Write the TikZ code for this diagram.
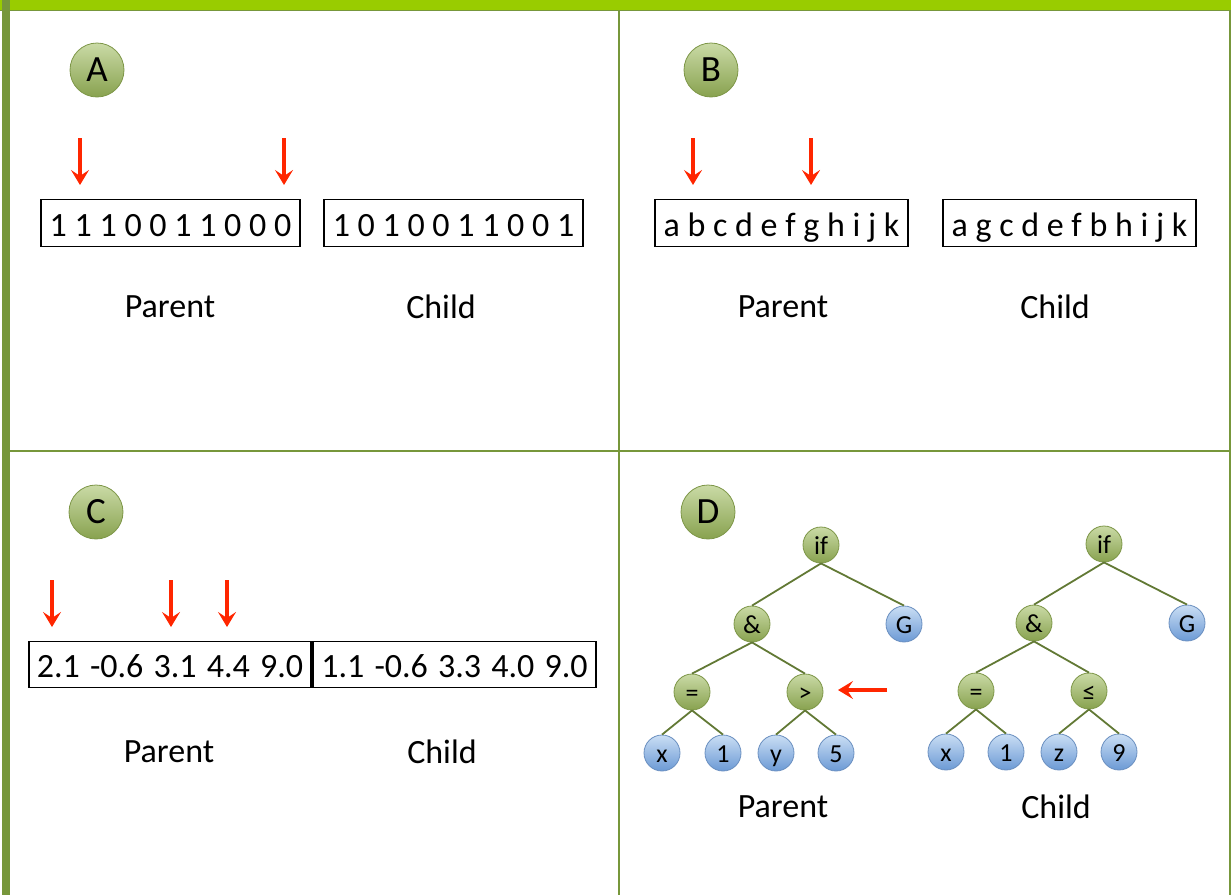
\documentclass[tikz,border=0pt]{standalone}
\usepackage{fontspec}
\setmainfont{Carlito}
\usepackage{tikz}
\usetikzlibrary{arrows.meta,positioning}
\definecolor{bargreen}{HTML}{99CC00}
\definecolor{rulegreen}{HTML}{77973B}
\definecolor{nodetop}{HTML}{CADAA6}
\definecolor{nodebot}{HTML}{88A24F}
\definecolor{nodeline}{HTML}{7D9647}
\definecolor{leaftop}{HTML}{CADEF4}
\definecolor{leafbot}{HTML}{6C9AD5}
\definecolor{leafline}{HTML}{6A8FC0}
\definecolor{edgegreen}{HTML}{627935}
\definecolor{arrowred}{HTML}{FF2600}

\begin{document}
\begin{tikzpicture}[x=1pt, y=-1pt,
    labelcircle/.style={
    circle,
    draw=nodeline,
    line width=0.8pt,
    top color=nodetop,
    bottom color=nodebot,
    inner sep=0pt,
    minimum size=54pt,
    font=\fontsize{37}{42}\selectfont},
    opnode/.style={
    circle,
    draw=nodeline,
    line width=0.8pt,
    top color=nodetop,
    bottom color=nodebot,
    inner sep=0pt,
    minimum size=36pt,
    text height=19pt,
    text depth=0pt,
    font=\fontsize{26}{30}\selectfont},
    leafnode/.style={opnode, draw=leafline, top color=leaftop, bottom color=leafbot},
    genebox/.style={draw=black, line width=1.3pt, inner sep=0pt,
    minimum height=47pt, text height=26pt, text depth=0pt,
    font=\fontsize{34}{40}\selectfont},
    tag/.style={font=\fontsize{34}{40}\selectfont},
    myarrow/.style={-{Stealth[length=15pt,width=18pt,inset=6pt]},draw=arrowred,line width=3.2pt},
    treeline/.style={draw=edgegreen,line width=1.8pt}
    ]
    \useasboundingbox (0,0) rectangle (1231,895);

    % frame
    \fill[bargreen] (0,0) rectangle (1231,10);
    \draw[rulegreen, line width=1.2pt] (0,10.5) -- (1231,10.5);
    \fill[rulegreen] (2,0) rectangle (10,895);
    \fill[rulegreen] (1228.5,10) rectangle (1231,895);
    \draw[rulegreen, line width=2pt] (619,10) -- (619,895);
    \draw[rulegreen, line width=2pt] (10,450.5) -- (1229,450.5);

    % panel letters
    \node[labelcircle] (lA) at (97,70) {A};
    \node[labelcircle] (lB) at (711,70) {B};
    \node[labelcircle] (lC) at (96,512) {C};
    \node[labelcircle] (lD) at (708,512) {D};

    % A: binary strings
    \node[genebox, minimum width=259pt] (pa) at (170.5,223) {1 1 1 0 0 1 1 0 0 0};
    \node[genebox, minimum width=259pt] (ca) at (453.5,223) {1 0 1 0 0 1 1 0 0 1};
    \node[tag] (pat) at (170,307) {Parent};
    \node[tag] (cat) at (441,307) {Child};

    % B: permutations
    \node[genebox, minimum width=253pt] (pb) at (781.5,223) {a b c d e f g h i j k};
    \node[genebox, minimum width=253pt] (cb) at (1069.5,223) {a g c d e f b h i j k};
    \node[tag] (pbt) at (783,307) {Parent};
    \node[tag] (cbt) at (1055,307) {Child};

    % C: real vectors
    \node[genebox, minimum width=282pt, minimum height=46pt] (pc) at (170,664.5)
        {2.1\hspace{.3em}-0.6\hspace{.3em}3.1\hspace{.3em}4.4\hspace{.3em}9.0};
    \node[genebox, minimum width=283pt, minimum height=46pt] (cc) at (454.5,664.5)
        {1.1\hspace{.3em}-0.6\hspace{.3em}3.3\hspace{.3em}4.0\hspace{.3em}9.0};
    \node[tag] (pct) at (169,752) {Parent};
    \node[tag] (cct) at (442,752) {Child};

    % mutation points
    \foreach \n/\x/\y in {a1/80/138, a2/284/138, b1/693/138, b2/811/138,
                          c1/52/580, c2/171/580, c3/227/580} {
        \coordinate (\n s) at (\x,\y);
        \coordinate (\n e) at (\x,\y+47);
        \draw[myarrow] (\n s) -- (\n e);
    }

    % D: parent tree
    \node[opnode] (pif) at (821,545) {if};
    \node[opnode] (pand) at (752,624) {\&};
    \node[leafnode] (pg) at (904,624) {G};
    \node[opnode] (peq) at (692,692) {=};
    \node[opnode] (pgt) at (805,692) {>};
    \node[leafnode] (px) at (662,753) {x};
    \node[leafnode] (p1) at (723,753) {1};
    \node[leafnode] (py) at (776,753) {y};
    \node[leafnode] (p5) at (836,753) {5};

    \draw[treeline] (pif.south) -- (pand.north);
    \draw[treeline] (pif.south) -- (pg.north);
    \draw[treeline] (pand.south) -- (peq.north);
    \draw[treeline] (pand.south) -- (pgt.north);
    \draw[treeline] (peq.south) -- (px.north);
    \draw[treeline] (peq.south) -- (p1.north);
    \draw[treeline] (pgt.south) -- (py.north);
    \draw[treeline] (pgt.south) -- (p5.north);

    \coordinate (ds) at (887,690);
    \coordinate (de) at (838,690);
    \draw[myarrow] (ds) -- (de);

    % D: child tree
    \node[opnode] (cif) at (1104,544) {if};
    \node[opnode] (cand) at (1034,623) {\&};
    \node[leafnode] (cg) at (1187,623) {G};
    \node[opnode] (ceq) at (976,691) {=};
    \node[opnode] (cle) at (1089,691) {≤};
    \node[leafnode] (cx) at (946,752) {x};
    \node[leafnode] (c1) at (1006,752) {1};
    \node[leafnode] (cz) at (1059,752) {z};
    \node[leafnode] (c9) at (1119,752) {9};

    \draw[treeline] (cif.south) -- (cand.north);
    \draw[treeline] (cif.south) -- (cg.north);
    \draw[treeline] (cand.south) -- (ceq.north);
    \draw[treeline] (cand.south) -- (cle.north);
    \draw[treeline] (ceq.south) -- (cx.north);
    \draw[treeline] (ceq.south) -- (c1.north);
    \draw[treeline] (cle.south) -- (cz.north);
    \draw[treeline] (cle.south) -- (c9.north);

    \node[tag] (pdt) at (783,807) {Parent};
    \node[tag] (cdt) at (1056,807) {Child};
\end{tikzpicture}
\end{document}
